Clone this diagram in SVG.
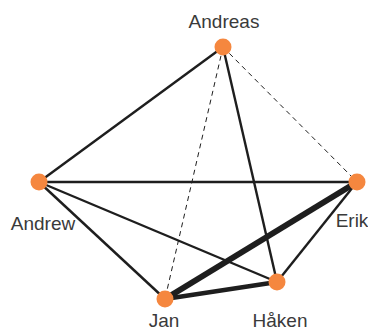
<svg xmlns="http://www.w3.org/2000/svg" width="368" height="332" viewBox="0 0 368 332">
<style>
.e{stroke:#1e1e1e;stroke-width:2.4;fill:none}
.d{stroke:#1e1e1e;stroke-width:1;stroke-dasharray:5 4;fill:none}
.n{fill:#f5873f}
text{font-family:"Liberation Sans",Arial,sans-serif;font-size:19px;fill:#3a3a3a;text-anchor:middle}
</style>
<rect width="368" height="332" fill="#fff"/>
<g id="connectors">
<line class="e" x1="223" y1="47" x2="39" y2="182"/>
<line class="d" x1="223" y1="47" x2="165" y2="299"/>
<line class="e" x1="223" y1="47" x2="277" y2="282"/>
<line class="d" x1="223" y1="47" x2="357" y2="182"/>
<line class="e" x1="39" y1="182" x2="357" y2="182"/>
<line class="e" x1="39" y1="182" x2="277" y2="282"/>
<line class="e" x1="39" y1="182" x2="165" y2="299"/>
<line class="e" x1="357" y1="182" x2="277" y2="282"/>
<line class="e" style="stroke-width:6" x1="357" y1="182" x2="165" y2="299"/>
<line class="e" style="stroke-width:4.5" x1="165" y1="299" x2="277" y2="282"/>
</g>
<g id="Andreas"><circle class="n" cx="223" cy="47" r="8.5"/><text x="224" y="28">Andreas</text></g>
<g id="Andrew"><circle class="n" cx="39" cy="182" r="8.5"/><text x="43" y="230">Andrew</text></g>
<g id="Erik"><circle class="n" cx="357" cy="182" r="8.5"/><text x="352" y="227">Erik</text></g>
<g id="Jan"><circle class="n" cx="165" cy="299" r="8.5"/><text x="164" y="327">Jan</text></g>
<g id="Haken"><circle class="n" cx="277" cy="282" r="8.5"/><text x="280" y="327">Håken</text></g>
</svg>
